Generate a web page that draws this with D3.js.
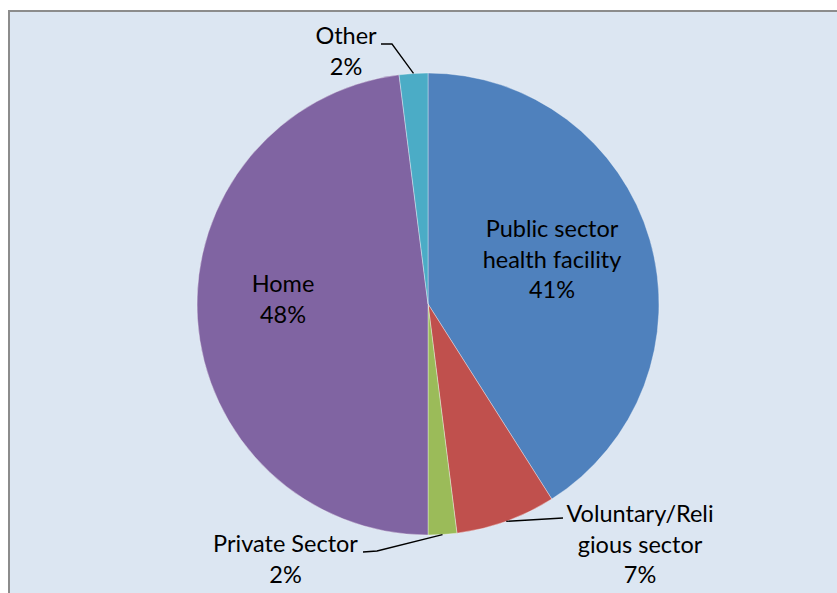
<!DOCTYPE html>
<html>
<head>
<meta charset="utf-8">
<script src="https://cdn.jsdelivr.net/npm/d3@7"></script>
<style>
  html, body { margin: 0; padding: 0; background: #ffffff; }
  svg { display: block; }
  text { font-family: Lato, "Open Sans", sans-serif; fill: #000000; }
</style>
</head>
<body>
<svg id="chart" width="837" height="593"></svg>
<script>
// Place of delivery shares (%)
const categories = ["Public sector health facility", "Voluntary/Religious sector", "Private Sector", "Home", "Other"];
const values = [41, 7, 2, 48, 2];
const labelLines = [["Public sector", "health facility"], ["Voluntary/Reli", "gious sector"], ["Private Sector"], ["Home"], ["Other"]];
const colors = ["#4f81bd", "#c0504d", "#9bbb59", "#8064a2", "#4bacc6"];

// Label layout relative to pie centre: first-baseline centre, optional leader elbow and end
const labelLayout = [
  { x: 124, y: -67 },
  { x: 212, y: 218, leader: [[135, 214]] },
  { x: -142.5, y: 248, leader: [[-51, 247], [-65, 248]] },
  { x: -145, y: -12 },
  { x: -82, y: -260, leader: [[-36, -260], [-47, -260]] }
];

const W = 837, H = 593;
const cx = 428, cy = 304, R = 231;
const lineH = 30.7;

const svg = d3.select("#chart");

// chart area frame
svg.append("rect")
  .attr("x", 9).attr("y", 11)
  .attr("width", W + 10).attr("height", H + 10)
  .attr("fill", "#dce6f2")
  .attr("stroke", "#8c8c8c")
  .attr("stroke-width", 2);

const pie = d3.pie().sort(null).value(d => d)(values);
const arc = d3.arc().innerRadius(0).outerRadius(R);

const g = svg.append("g").attr("transform", `translate(${cx},${cy})`);

g.selectAll("path.slice")
  .data(pie)
  .join("path")
  .attr("class", "slice")
  .attr("d", arc)
  .attr("fill", (d, i) => colors[i])
  .attr("stroke", "#ffffff")
  .attr("stroke-opacity", 0.45)
  .attr("stroke-width", 0.8);

// leader lines from the slice edge at mid-angle
pie.forEach((d, i) => {
  const L = labelLayout[i];
  if (!L.leader) return;
  const a = (d.startAngle + d.endAngle) / 2;
  const p0 = [Math.sin(a) * R, -Math.cos(a) * R];
  g.append("path")
    .attr("d", d3.line()([p0, ...L.leader]))
    .attr("fill", "none")
    .attr("stroke", "#000000")
    .attr("stroke-width", 1.3);
});

// labels
pie.forEach((d, i) => {
  const L = labelLayout[i];
  const lines = [...labelLines[i], d3.format(".0f")(d.data) + "%"];
  const t = g.append("text")
    .attr("text-anchor", "middle")
    .attr("font-size", 23.5);
  lines.forEach((s, k) => {
    t.append("tspan")
      .attr("x", L.x)
      .attr("y", L.y + k * lineH)
      .text(s);
  });
});
</script>
</body>
</html>
